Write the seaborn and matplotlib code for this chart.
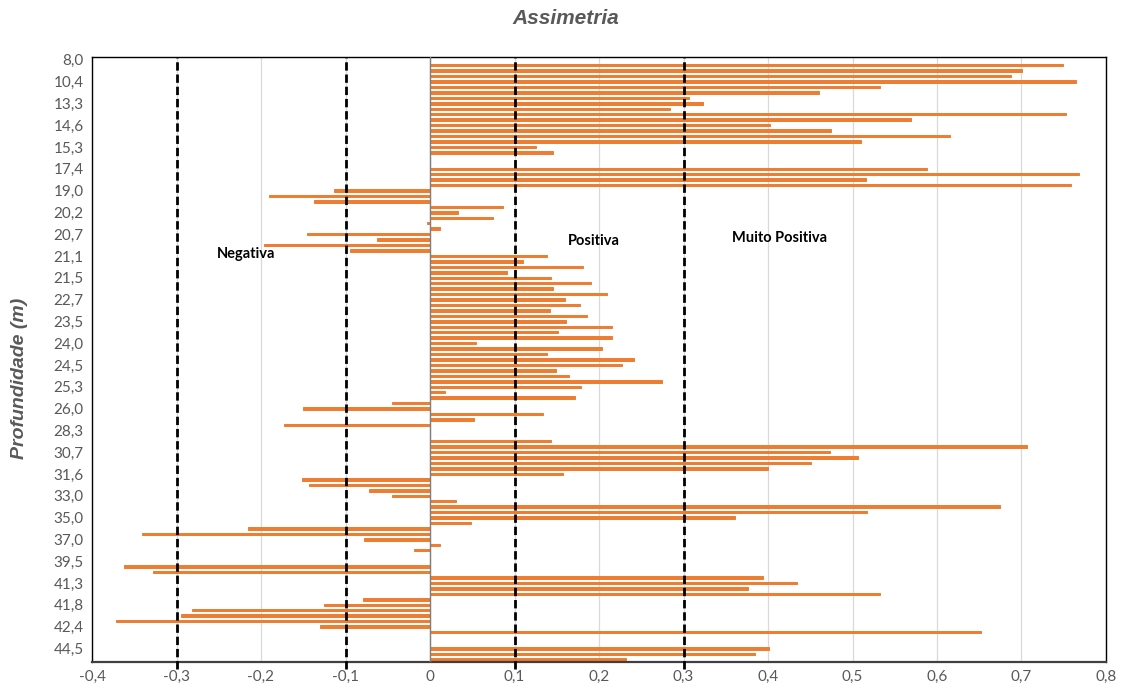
import numpy as np
import pandas as pd
import matplotlib
matplotlib.use("Agg")
import matplotlib.pyplot as plt
import seaborn as sns

# ---- data ----
nan = np.nan
values = [
    nan, 0.749, 0.701, 0.688, 0.764, 0.533, 0.460, 0.307, 0.323, 0.284,
    0.753, 0.569, 0.402, 0.475, 0.615, 0.510, 0.125, 0.145, nan, nan,
    0.588, 0.768, 0.516, 0.758, -0.114, -0.191, -0.137, 0.086, 0.033, 0.075,
    -0.004, 0.012, -0.146, -0.063, -0.196, -0.095, 0.138, 0.110, 0.181, 0.091,
    0.143, 0.191, 0.145, 0.210, 0.160, 0.178, 0.142, 0.186, 0.161, 0.215,
    0.151, 0.215, 0.055, 0.204, 0.138, 0.242, 0.227, 0.149, 0.165, 0.274,
    0.179, 0.018, 0.172, -0.045, -0.150, 0.134, 0.052, -0.173, nan, nan,
    0.143, 0.706, 0.473, 0.507, 0.451, 0.400, 0.157, -0.151, -0.143, -0.072,
    -0.045, 0.031, 0.675, 0.517, 0.361, 0.048, -0.215, -0.341, -0.078, 0.012,
    -0.019, nan, nan, -0.362, -0.328, 0.394, 0.434, 0.376, 0.533, -0.079,
    -0.126, -0.282, -0.295, -0.372, -0.130, 0.652, nan, nan, 0.401, 0.385,
    0.232,
]
depth_labels = ["8,0", "10,4", "13,3", "14,6", "15,3", "17,4", "19,0", "20,2",
                "20,7", "21,1", "21,5", "22,7", "23,5", "24,0", "24,5", "25,3",
                "26,0", "28,3", "30,7", "31,6", "33,0", "35,0", "37,0", "39,5",
                "41,3", "41,8", "42,4", "44,5"]
x_ticks = [-0.4, -0.3, -0.2, -0.1, 0, 0.1, 0.2, 0.3, 0.4, 0.5, 0.6, 0.7, 0.8]
class_lines = [-0.3, -0.1, 0.1, 0.3]
class_names = ["Negativa", "Positiva", "Muito Positiva"]
title = "Assimetria"
ylabel = "Profundidade (m)"

# ---- plot ----
sns.set_theme(style="white")
narrow = ["Liberation Sans Narrow", "Lato", "DejaVu Sans"]
plt.rcParams["font.family"] = narrow

cats = [str(i) for i in range(len(values))]
df = pd.DataFrame({"cat": cats, "value": values})

fig = plt.figure(figsize=(11.21, 6.97), dpi=100)
ax = fig.add_axes([92 / 1121, 1 - 662 / 697, (1106 - 92) / 1121, (662 - 57) / 697])

# grid
for xv in x_ticks:
    ax.axvline(xv, color="#D9D9D9", lw=0.9, zorder=0)

sns.barplot(data=df, x="value", y="cat", order=cats, orient="h",
            color="#ED7D31", saturation=1, width=0.45, ax=ax, zorder=2,
            edgecolor="#ED7D31", linewidth=0.7)

ax.axvline(0, color="#7F7F7F", lw=1.0, zorder=3)
for xv in class_lines:
    ax.axvline(xv, color="black", lw=2.0, ls=(0, (3, 1.4)), zorder=4,
               ymin=-0.012, ymax=1.0, clip_on=False)

ax.set_xlim(-0.4, 0.8)
ax.set_ylim(len(values) - 0.5, -0.5)
ax.set_xticks(x_ticks)
ax.set_xticklabels([("0" if v == 0 else f"{v:.1f}".replace(".", ",")) for v in x_ticks])
ax.set_yticks(list(range(0, 4 * len(depth_labels), 4)))
ax.set_yticklabels(depth_labels)
ax.tick_params(axis="both", length=0, labelsize=11, colors="#595959", pad=6)

for side in ["top", "right", "left"]:
    ax.spines[side].set_color("black")
    ax.spines[side].set_linewidth(1.0)
ax.spines["bottom"].set_color("#404040")
ax.spines["bottom"].set_linewidth(1.6)

ax.set_xlabel("")
ax.set_ylabel("")
fig.text(20 / 1121, 1 - 378 / 697, ylabel, rotation=90, ha="center", va="center",
         fontsize=14, fontweight="bold", fontstyle="italic", color="#595959",
         family=["Liberation Sans", "DejaVu Sans"])
fig.text(566 / 1121, 1 - 18 / 697, title, ha="center", va="center",
         fontsize=15, fontweight="bold", fontstyle="italic", color="#595959",
         family=["Liberation Sans", "DejaVu Sans"])

ax.text(-0.218, 35.6, class_names[0], ha="center", va="center", fontsize=10.5,
        fontweight="bold", color="black")
ax.text(0.194, 33.3, class_names[1], ha="center", va="center", fontsize=10.5,
        fontweight="bold", color="black")
ax.text(0.414, 32.7, class_names[2], ha="center", va="center", fontsize=10.5,
        fontweight="bold", color="black")

fig.savefig("out.png", dpi=100)
